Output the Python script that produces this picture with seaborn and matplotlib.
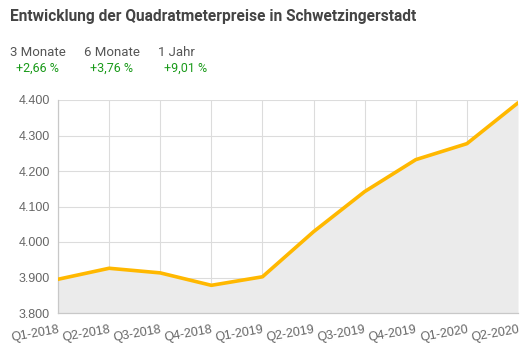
import matplotlib
matplotlib.use("Agg")
import matplotlib.pyplot as plt
import seaborn as sns
import numpy as np

quarters = ["Q1-2018", "Q2-2018", "Q3-2018", "Q4-2018", "Q1-2019",
            "Q2-2019", "Q3-2019", "Q4-2019", "Q1-2020", "Q2-2020"]
prices = [3895, 3926, 3913, 3878, 3902, 4029, 4142, 4232, 4277, 4392]
yticks = [3800, 3900, 4000, 4100, 4200, 4300, 4400]
ytick_labels = ["3.800", "3.900", "4.000", "4.100", "4.200", "4.300", "4.400"]
periods = ["3 Monate", "6 Monate", "1 Jahr"]
changes = ["+2,66 %", "+3,76 %", "+9,01 %"]
title = "Entwicklung der Quadratmeterpreise in Schwetzingerstadt"

sns.set_theme(style="white")
plt.rcParams['font.family'] = ['Liberation Sans', 'DejaVu Sans']

fig = plt.figure(figsize=(5.3, 3.54), dpi=100)
ax = fig.add_axes([58/530, 1-313/354, (518-58)/530, (313-100)/354])

x = np.arange(len(quarters))
ax.fill_between(x, prices, 3800, color="#ebebeb", zorder=1, linewidth=0)
sns.lineplot(x=x, y=prices, ax=ax, color="#ffb800", linewidth=2.6, zorder=3)

ax.set_xlim(0, len(quarters)-1)
ax.set_ylim(3800, 4400)
ax.set_yticks(yticks)
ax.set_yticklabels(ytick_labels)
ax.set_xticks(x)
ax.set_xticklabels(quarters, rotation=10, ha="right", rotation_mode="anchor")
ax.grid(True, color="#dcdcdc", linewidth=0.8, zorder=0)
ax.set_axisbelow(True)
for s in ["top", "right"]:
    ax.spines[s].set_visible(False)
for s in ["left", "bottom"]:
    ax.spines[s].set_color("#c8c8c8")
    ax.spines[s].set_linewidth(0.9)
ax.tick_params(axis="both", length=4, color="#dcdcdc", labelcolor="#666666",
               labelsize=9, pad=2)
ax.tick_params(axis="x", pad=4)
ax.set_xlabel("")
ax.set_ylabel("")

fig.text(10/530, 1-17/354, title, fontsize=11.2, fontweight="bold",
         color="#444444", va="center", ha="left", family=["Roboto", "DejaVu Sans"])
px = [10, 84, 158]
for p, c, xx in zip(periods, changes, px):
    fig.text(xx/530, 1-52/354, p, fontsize=9.5, color="#555555", va="center",
             ha="left", family=["Roboto", "DejaVu Sans"])
    fig.text((xx+6)/530, 1-68/354, c, fontsize=9, color="#1a9a1a", va="center",
             ha="left", family=["Roboto", "DejaVu Sans"])

fig.savefig("out.png", dpi=100)
